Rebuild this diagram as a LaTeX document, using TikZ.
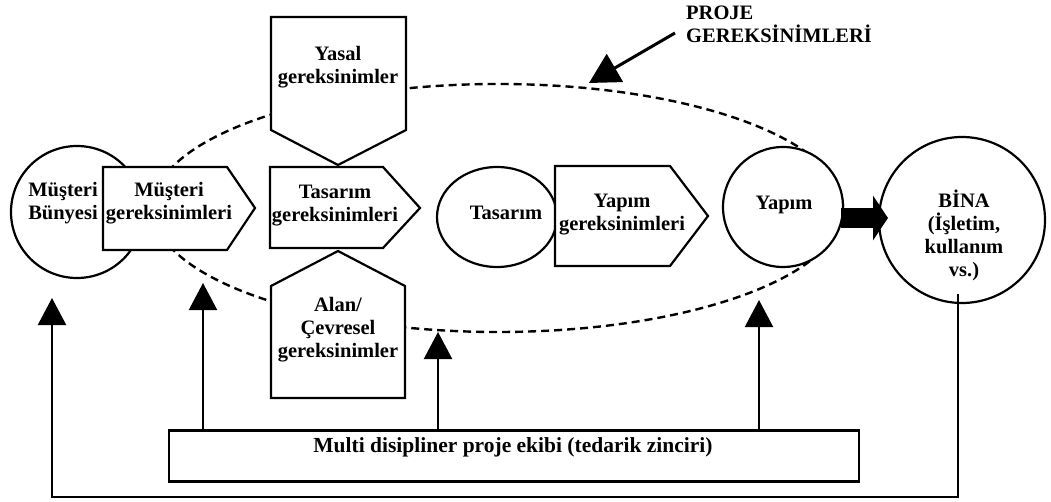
\documentclass[tikz,border=0pt]{standalone}
\usepackage{fontspec}
\setmainfont{Liberation Serif}
\usetikzlibrary{arrows.meta}
\begin{document}
\begin{tikzpicture}[x=1pt,y=-1pt,
  lbl/.style={font=\fontsize{20.5}{23}\selectfont\bfseries, align=center, inner sep=0pt},
  shp/.style={draw=black, line width=2.2pt, fill=white, line join=miter},
  ring/.style={shp, circle, inner sep=0pt},
  scopeline/.style={draw=black, line width=2.4pt, dash pattern=on 8pt off 5pt},
  feed/.style={draw=black, line width=2.2pt, -{Triangle[width=28pt,length=27pt]}},
  pointer/.style={draw=black, line width=3pt, -{Triangle[width=32pt,length=30pt]}},
  bigarrow/.style={draw=black, line width=20pt, -{Triangle[width=44pt,length=15pt]}},
]
\useasboundingbox (0,0) rectangle (1051,502);

% project requirements boundary
\draw[scopeline] (498,208) ellipse [x radius=345, y radius=124];

% client side
\node[ring, minimum size=132pt] (mbc) at (77,212) {};
\node[lbl] (mbt) at (63,203) {Müşteri\\Bünyesi};
\draw[shp] (103,167) -- (227,167) -- (255,208) -- (227,250) -- (103,250) -- cycle;
\node[lbl] (mgr) at (169,203) {Müşteri\\gereksinimleri};

% legal and site requirements feeding design requirements
\draw[shp] (271,17) -- (406,17) -- (406,130) -- (338,165) -- (271,130) -- cycle;
\node[lbl] (yasal) at (338,67) {Yasal\\gereksinimler};
\draw[shp] (338,251) -- (405,286) -- (405,398) -- (271,398) -- (271,286) -- cycle;
\node[lbl] (alan) at (338,330) {Alan/\\Çevresel\\gereksinimler};
\draw[shp] (270,167) -- (383,167) -- (420,208) -- (383,248) -- (270,248) -- cycle;
\node[lbl] (tgr) at (335,206) {Tasarım\\gereksinimleri};

% design and construction
\draw[shp] (497,217) ellipse [x radius=60, y radius=50];
\node[lbl] (tas) at (506,213) {Tasarım};
\draw[shp] (555,166) -- (670,166) -- (708,216) -- (670,266) -- (555,266) -- cycle;
\node[lbl] (ygr) at (622,215) {Yapım\\gereksinimleri};
\node[ring, minimum size=120pt] (yap) at (783,207) {};
\node[lbl] (yapt) at (784,205) {Yapım};

% building
\node[ring, minimum size=166pt] (bina) at (962,220) {};
\node[lbl] (binat) at (964,235) {BİNA\\(İşletim,\\kullanım\\vs.)};
\draw[bigarrow] (841,218) -- (888,218);

% project requirements label
\node[lbl, align=left, anchor=west] (pg) at (686,24) {PROJE\\GEREKSİNİMLERİ};
\coordinate (pgtip) at (589,83);
\draw[pointer] ([xshift=-11pt,yshift=-9pt]pg.west) -- (pgtip);

% project team and its contributions
\node[shp, rectangle, minimum width=690pt, minimum height=51pt] (multi) at (514,456) {};
\node[lbl, font=\fontsize{21.5}{23}\selectfont\bfseries] (multit) at (513,447) {Multi disipliner proje ekibi (tedarik zinciri)};
\coordinate (t1) at (52,298);
\coordinate (t2) at (203,283);
\coordinate (t3) at (438,332);
\coordinate (t4) at (759,300);
\coordinate (loopR) at (958,497);
\coordinate (loopL) at (52,497);
\draw[feed] (t2 |- multi.north) -- (t2);
\draw[feed] (t3 |- multi.north) -- (t3);
\draw[feed] (t4 |- multi.north) -- (t4);
\draw[feed] ([xshift=-4pt,yshift=10pt]bina.south) -- (loopR) -- (loopL) -- (t1);
\end{tikzpicture}
\end{document}
